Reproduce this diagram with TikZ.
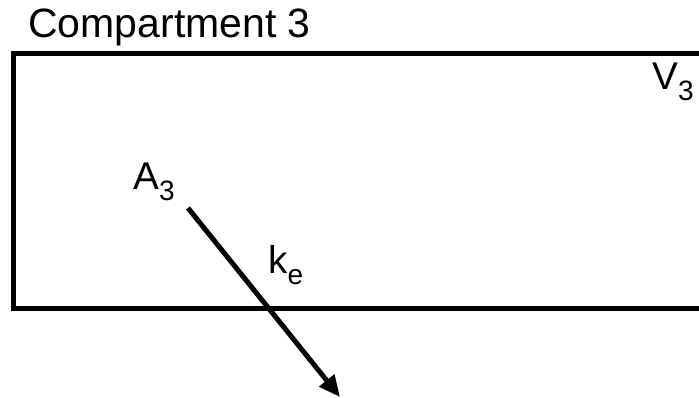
\documentclass[tikz,border=0pt]{standalone}
\usepackage{fontspec}
\setmainfont{Liberation Sans}
\usetikzlibrary{arrows.meta}
\newcommand\mysub[1]{\raisebox{-8pt}{\fontsize{21}{24}\selectfont #1}}
\begin{document}
\begin{tikzpicture}[x=0.75pt,y=-0.75pt,
  wall/.style={line width=3.75pt, line join=miter},
  lbl/.style={inner sep=0pt, anchor=base west, font=\fontsize{29}{34}\selectfont},
  title/.style={inner sep=0pt, anchor=base west, font=\fontsize{30.75}{36}\selectfont},
  flow/.style={line width=3.75pt, -{Triangle[length=16pt,width=14pt]}}]
\useasboundingbox (0,0) rectangle (699,398);
\draw[wall] (712,54) -- (13,54) -- (13,309) -- (712,309);
\node[title] (title) at (28,38) {Compartment 3};
\node[lbl] (V) at (652,90) {V\mysub{3}};
\node[lbl] (A) at (133,190) {A\mysub{3}};
\node[lbl] (k) at (268,274) {k\mysub{e}};
\coordinate (start) at (188,208);
\coordinate (end) at (340,397);
\draw[flow] (start) -- (end);
\end{tikzpicture}
\end{document}
